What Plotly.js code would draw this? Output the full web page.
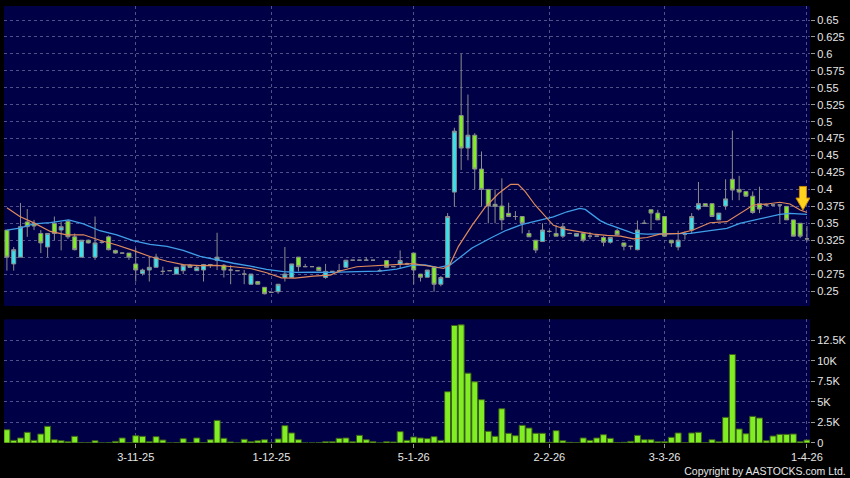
<!DOCTYPE html>
<html>
<head>
<meta charset="utf-8">
<script src="https://cdn.plot.ly/plotly-3.0.1.min.js"></script>
<style>
html,body{margin:0;padding:0;background:#000;}
#chart{width:850px;height:478px;}
</style>
</head>
<body>
<div id="chart"></div>
<script>
// ---- Daily OHLC (one entry per trading session, oldest first) ----
const open = [
.34,.29,.30,.352,.35,.335,.315,.35,.34,.353,
.33,.30,.325,.30,.322,.33,.31,.306,.306,.29,
.276,.281,.285,.279,.28,.275,.28,.288,.28,.281,
.289,.295,.288,.281,.28,.275,.26,.264,.2555,.248,
.249,.27,.27,.30,.286,.286,.285,.27,.279,.28,
.285,.2955,.2955,.2955,.2955,.28,.295,.286,.29,.29,
.306,.275,.2703,.285,.26,.27,.396,.509,.461,.48,
.43,.40,.378,.3755,.3647,.36,.36,.335,.325,.323,
.338,.335,.331,.335,.331,.335,.331,.331,.329,.322,
.339,.321,.316,.311,.35,.37,.365,.36,.325,.315,
.334,.34,.371,.379,.379,.355,.3755,.415,.40,.397,
.39,.379,.377,.377,.377,.375,.355,.35,.327];
const high = [
.34,.315,.38,.371,.355,.34,.335,.36,.352,.355,
.335,.325,.326,.36,.324,.332,.311,.306,.306,.313,
.283,.30,.305,.286,.28,.285,.29,.29,.288,.29,
.29,.336,.29,.288,.28,.281,.275,.265,.2555,.249,
.26,.315,.29,.30,.29,.286,.286,.29,.279,.29,
.2955,.2955,.2955,.30,.2955,.283,.295,.286,.31,.292,
.306,.275,.281,.285,.272,.365,.491,.60,.54,.483,
.456,.40,.40,.4164,.3804,.368,.36,.34,.325,.35,
.34,.347,.35,.336,.335,.337,.337,.331,.331,.329,
.342,.321,.316,.354,.355,.37,.37,.36,.325,.339,
.338,.365,.411,.379,.379,.365,.415,.487,.42,.397,
.397,.404,.378,.378,.377,.375,.355,.35,.346];
const low = [
.28,.28,.30,.33,.34,.306,.30,.325,.31,.327,
.31,.30,.32,.296,.32,.31,.305,.306,.296,.264,
.273,.264,.285,.274,.28,.275,.275,.285,.28,.264,
.284,.281,.27,.26,.28,.26,.26,.26,.245,.248,
.246,.264,.27,.279,.286,.286,.28,.268,.279,.28,
.285,.2955,.2955,.2955,.2955,.28,.285,.286,.283,.288,
.26,.264,.27,.249,.257,.27,.3745,.4286,.443,.40,
.3745,.35,.35,.34,.36,.355,.335,.33,.306,.323,
.336,.331,.328,.334,.331,.322,.327,.331,.316,.32,
.332,.31,.311,.31,.35,.34,.355,.33,.315,.31,
.326,.335,.369,.375,.36,.355,.37,.384,.384,.39,
.364,.365,.376,.376,.35,.355,.331,.328,.323];
const close = [
.30,.311,.345,.345,.346,.321,.335,.335,.345,.33,
.311,.325,.321,.321,.322,.311,.306,.306,.30,.281,
.281,.285,.30,.279,.28,.285,.288,.285,.285,.289,
.289,.30,.281,.281,.28,.275,.275,.26,.246,.248,
.26,.275,.29,.286,.286,.286,.28,.279,.279,.28,
.2955,.2955,.2955,.2955,.2955,.28,.285,.286,.295,.29,
.281,.2703,.281,.26,.27,.36,.486,.461,.48,.43,
.40,.3755,.375,.355,.36,.36,.35,.33,.3105,.34,
.338,.331,.345,.335,.335,.325,.331,.331,.322,.329,
.333,.316,.316,.34,.35,.365,.355,.331,.321,.325,
.334,.36,.379,.375,.36,.365,.386,.399,.396,.39,
.366,.371,.377,.377,.377,.355,.331,.331,.327];
const volume = [
1620,320,610,1300,320,1090,2030,400,280,160,
810,20,20,280,0,20,200,610,20,890,
810,160,770,360,0,20,530,20,610,20,
400,2750,570,120,0,450,160,280,400,0,
490,2110,1220,400,0,0,20,160,160,570,
610,160,930,400,160,0,160,120,1380,320,
730,610,530,770,320,6240,14300,14380,8500,7450,
5270,1420,810,4170,1180,890,2150,1820,1180,1180,
80,1500,280,80,40,610,320,610,1010,570,
40,80,200,930,400,400,160,160,690,1220,
40,1220,1300,40,400,160,3120,10770,1700,1130,
3240,3040,280,850,1050,1050,1090,160,360];

// ---- Moving averages (session position, value) ----
const maFastX = [0,1.9,3.9,6.4,8.8,11.3,13.7,16.2,18.6,21.1,23.6,26,28.5,30.9,33.4,35.9,38.3,40.5,42.5,45.2,47.7,49.1,51.6,54,57,59.9,62.9,64.4,65.3,66.6,68.6,70.5,72.5,74.3,75.4,76.4,77.9,79.4,80.6,82.6,84.5,86.5,88.5,90.5,92.4,94.4,96.3,99.3,101.2,103.7,106.2,108.1,110.1,112.1,114,115.5,117,118];
const maFastY = [.373,.36,.351,.338,.333,.333,.325,.318,.31,.301,.294,.289,.2874,.288,.2858,.2833,.277,.2695,.269,.272,.2736,.2795,.2858,.2874,.2883,.2905,.2858,.2833,.2884,.316,.347,.373,.394,.4075,.4075,.3975,.377,.36,.347,.3405,.337,.334,.332,.331,.327,.329,.334,.335,.34,.3508,.3524,.3647,.377,.3785,.381,.3785,.3696,.366];
const maSlowX = [0,1.9,3.9,6.4,9.1,11.3,13.7,16.2,18.6,21.1,23.6,26,28.5,30.9,33.4,35.9,38.3,40.8,42.7,45.2,47.7,51.6,55,57.5,59.9,61.7,63.6,65.4,66.6,68.6,71.5,73.5,75.9,78.5,80.6,82.6,84.5,85.3,86.3,87.5,88.5,90.4,92.4,94.4,97.3,100.8,103.7,106.2,108.1,110.1,112.1,114,115.5,117,118];
const maSlowY = [.34,.343,.349,.351,.355,.349,.339,.333,.3245,.319,.316,.31,.301,.296,.291,.2868,.2818,.2785,.2775,.2778,.2775,.2785,.2795,.2824,.2883,.2884,.2845,.2884,.2975,.3135,.329,.339,.348,.3545,.3595,.367,.372,.3705,.363,.354,.349,.342,.335,.334,.334,.335,.339,.3425,.35,.3548,.3588,.3632,.3647,.3635,.3632];

// ---- Axis ticks ----
const xTickIdx  = [19, 39, 60, 80, 97, 118];
const xTickText = ['3-11-25','1-12-25','5-1-26','2-2-26','3-3-26','1-4-26'];
const priceTicks = [0.25,0.275,0.3,0.325,0.35,0.375,0.4,0.425,0.45,0.475,0.5,0.525,0.55,0.575,0.6,0.625,0.65];
const priceTickText = ['0.25','0.275','0.3','0.325','0.35','0.375','0.4','0.425','0.45','0.475','0.5','0.525','0.55','0.575','0.6','0.625','0.65'];
const volTicks = [0,2500,5000,7500,10000,12500];
const volTickText = ['0','2.5K','5K','7.5K','10K','12.5K'];

const idx = close.map((_, i) => i);
const last = idx.length - 1;

const GREEN = '#80ee22', CYAN = '#33e3f0', EDGE = '#8c8c8c';
const GRID = 'rgba(115,115,165,0.7)';
const FONT = {family:'"Liberation Sans", Arial, sans-serif', size:11, color:'#e6e6e6'};

const traces = [
  {type:'candlestick', x:idx, open:open, high:high, low:low, close:close,
   xaxis:'x', yaxis:'y', whiskerwidth:0, hoverinfo:'skip', showlegend:false,
   increasing:{line:{color:EDGE, width:1}, fillcolor:CYAN},
   decreasing:{line:{color:EDGE, width:1}, fillcolor:GREEN}},
  {type:'scatter', mode:'lines', x:maSlowX, y:maSlowY, xaxis:'x', yaxis:'y',
   line:{color:'#3f9fe8', width:1.3}, hoverinfo:'skip', showlegend:false},
  {type:'scatter', mode:'lines', x:maFastX, y:maFastY, xaxis:'x', yaxis:'y',
   line:{color:'#e08a5c', width:1.2}, hoverinfo:'skip', showlegend:false},
  {type:'bar', x:idx, y:volume, xaxis:'x2', yaxis:'y2',
   marker:{color:GREEN, line:{color:'#3d5e1c', width:1}}, hoverinfo:'skip', showlegend:false}
];

const xr = [-0.43, 118.45];
const layout = {
  width:850, height:478,
  margin:{l:4, r:40, t:6, b:35},
  paper_bgcolor:'#000000', plot_bgcolor:'#000046',
  showlegend:false, boxgap:0.16, bargap:0.12,
  font:FONT,
  title:{text:'Copyright by AASTOCKS.com Ltd.', xref:'container', yref:'container',
         x:0.995, y:0.0146, xanchor:'right', yanchor:'middle',
         font:{family:'"Liberation Sans", Arial, sans-serif', size:10.5, color:'#e6e6e6'}},
  xaxis:{domain:[0,1], anchor:'y', range:xr, tickvals:xTickIdx, ticktext:xTickText,
         showticklabels:false, ticks:'', showgrid:true, gridcolor:GRID, griddash:'3px,3px', gridwidth:1,
         zeroline:false, showline:false, rangeslider:{visible:false}, fixedrange:true},
  xaxis2:{domain:[0,1], anchor:'y2', range:xr, tickvals:xTickIdx, ticktext:xTickText,
          ticks:'outside', ticklen:4, tickcolor:'#9a9a9a', tickfont:FONT,
          showgrid:true, gridcolor:GRID, griddash:'3px,3px', gridwidth:1,
          zeroline:false, showline:false, fixedrange:true},
  yaxis:{domain:[0.3135,1], anchor:'x', range:[0.2279,0.6707], side:'right',
         tickvals:priceTicks, ticktext:priceTickText, ticks:'outside', ticklen:4, tickcolor:'#9a9a9a',
         tickfont:FONT, showgrid:true, gridcolor:GRID, griddash:'3px,3px', gridwidth:1,
         zeroline:false, showline:false, fixedrange:true},
  yaxis2:{domain:[0,0.283], anchor:'x2', range:[0,15050], side:'right',
          tickvals:volTicks, ticktext:volTickText, ticks:'outside', ticklen:4, tickcolor:'#9a9a9a',
          tickfont:FONT, showgrid:true, gridcolor:GRID, griddash:'3px,3px', gridwidth:1,
          zeroline:false, showline:false, fixedrange:true},
  shapes:[
    {type:'path', xref:'x', yref:'y', xsizemode:'pixel', ysizemode:'pixel',
     xanchor:last, yanchor:maFastY[maFastY.length-1],
     path:'M -4 2.4 L -11 14.4 L -7.5 14.4 L -7.5 26 L -0.5 26 L -0.5 14.4 L 3 14.4 Z',
     fillcolor:'#ffd21f', line:{color:'#c98a00', width:1}, layer:'above'}
  ]
};

Plotly.newPlot('chart', traces, layout, {displayModeBar:false, staticPlot:true});
</script>
</body>
</html>
